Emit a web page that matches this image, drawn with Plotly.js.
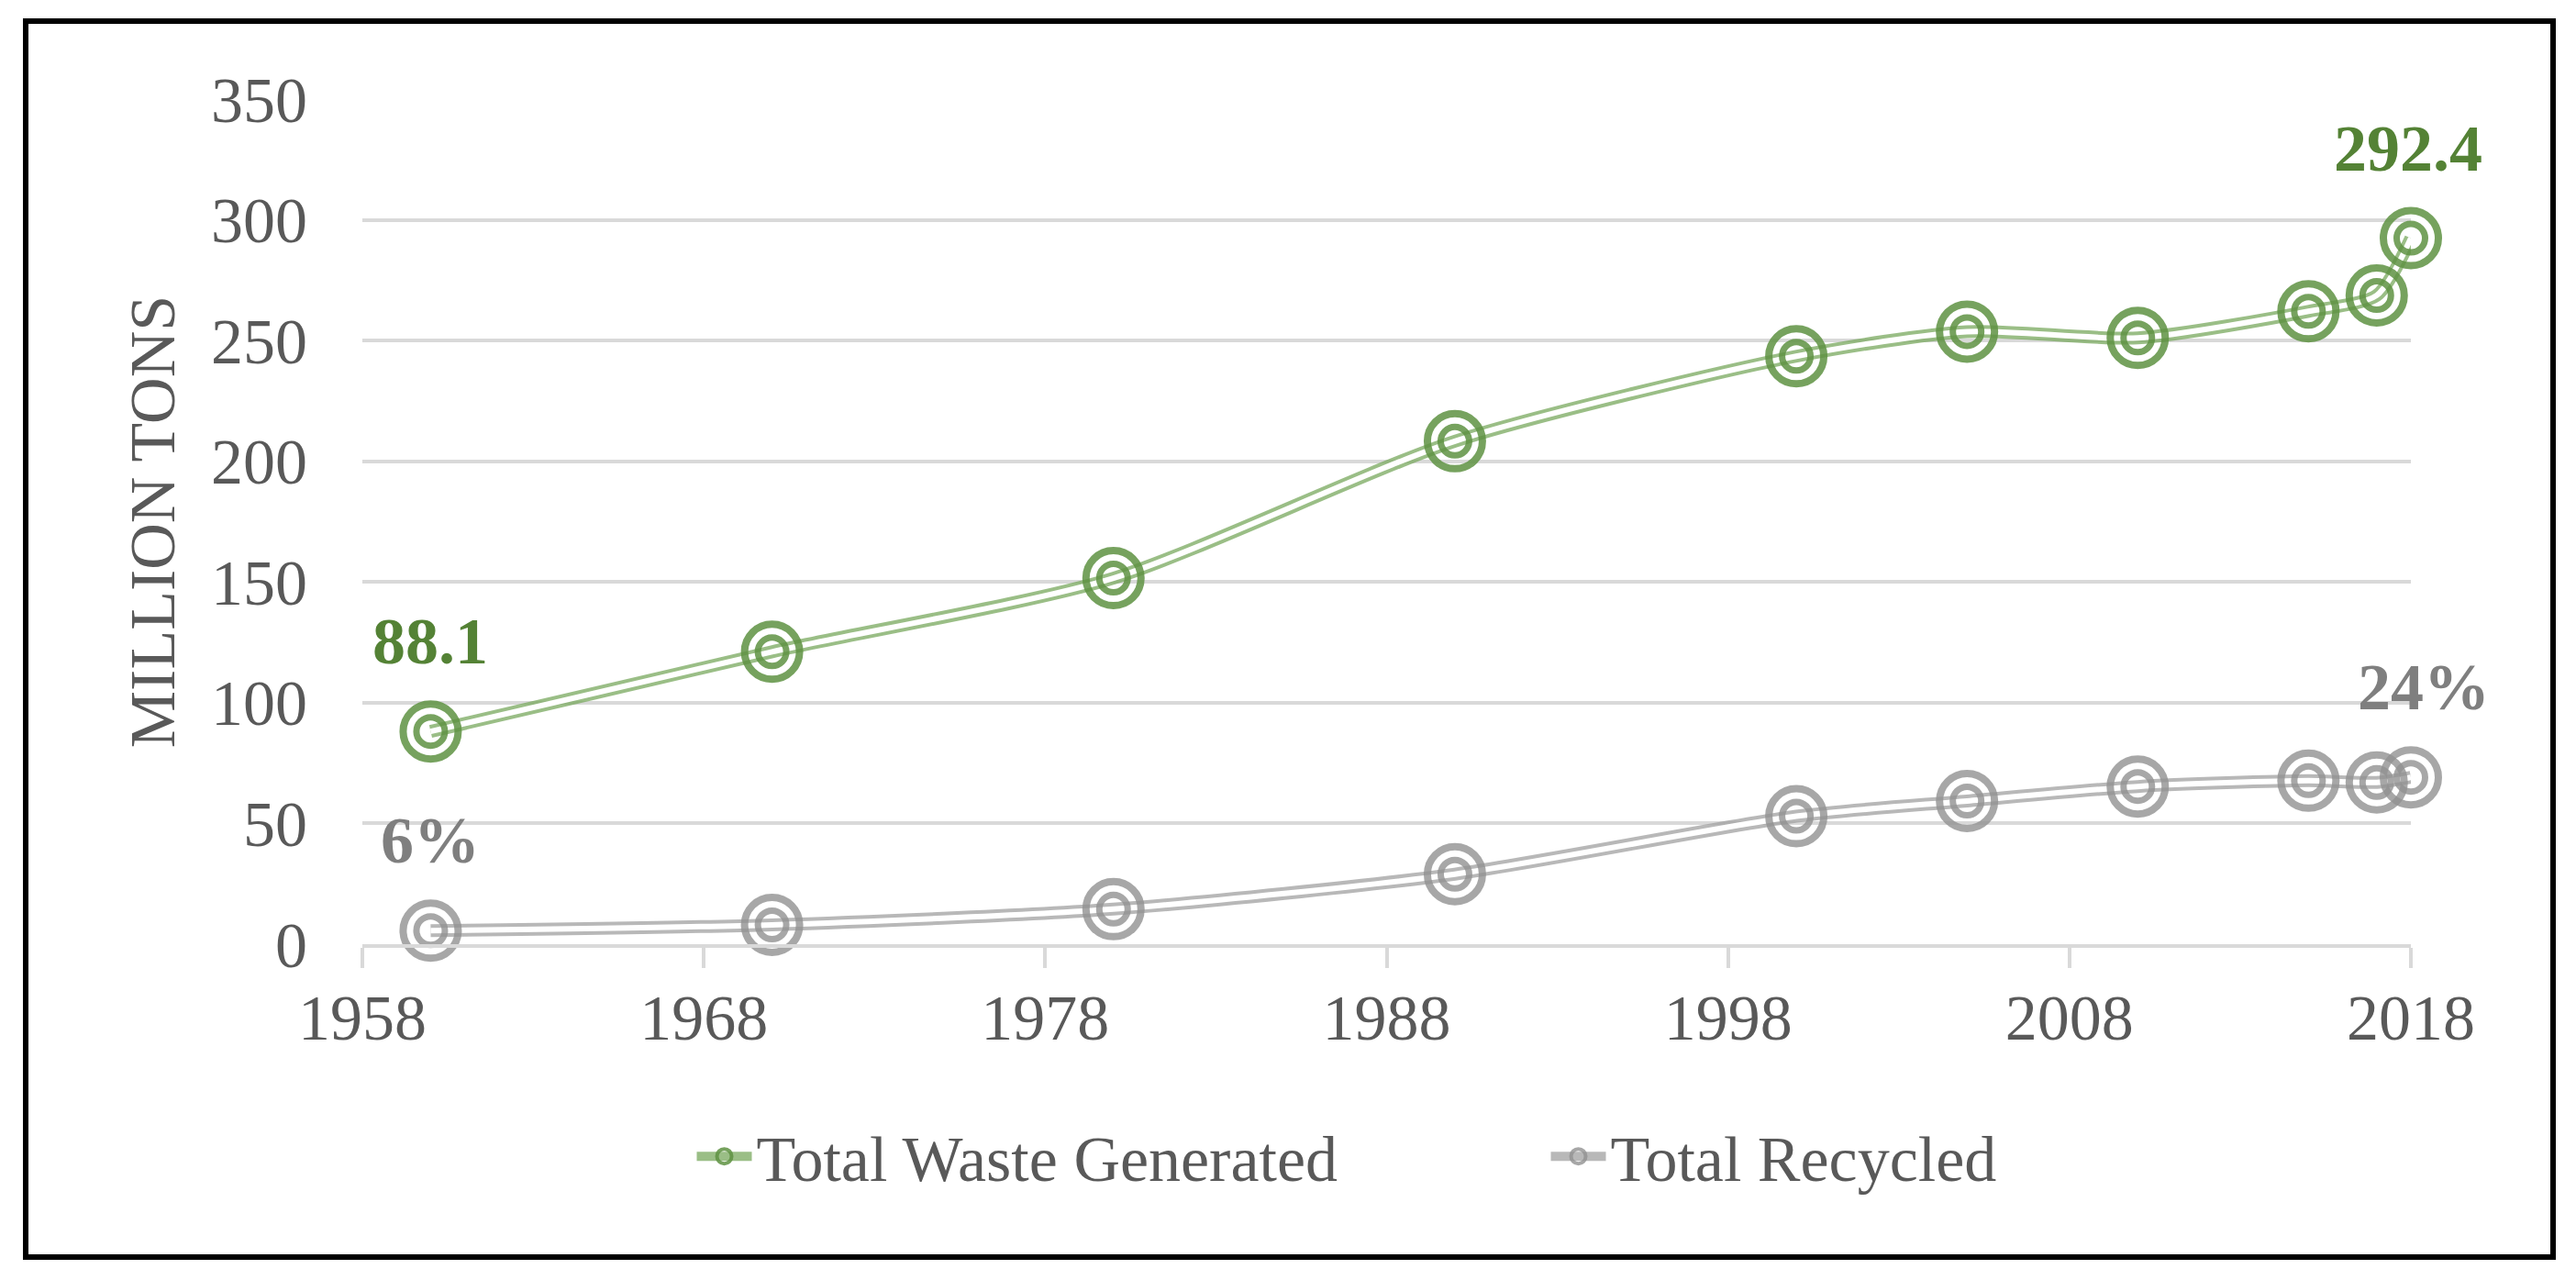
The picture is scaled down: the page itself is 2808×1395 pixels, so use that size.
<!DOCTYPE html>
<html>
<head>
<meta charset="utf-8">
<script src="https://cdn.plot.ly/plotly-3.0.1.min.js"></script>
<style>
  body { margin: 0; background: #fff; }
  #myDiv { position: absolute; left: 0; top: 0; width: 2808px; height: 1395px; }
  #frame { position: absolute; left: 25px; top: 20px; width: 2761px; height: 1353px;
           border: 6px solid #000; box-sizing: border-box; pointer-events: none; }
</style>
</head>
<body>
<div id="myDiv"></div>
<div id="frame"></div>
<script>
// EPA municipal solid waste, million tons
var years = [1960, 1970, 1980, 1990, 2000, 2005, 2010, 2015, 2017, 2018];
var wasteGenerated = [88.1, 121.1, 151.6, 208.3, 243.5, 253.7, 251.1, 262.1, 268.7, 292.4];
var totalRecycled = [5.6, 8.0, 14.5, 29.0, 53.0, 59.3, 65.3, 67.7, 67.0, 69.1];
var seriesNames = ['Total Waste Generated', 'Total Recycled'];

var font = 'Liberation Serif, Times New Roman, serif';
var green = 'rgba(94,146,66,0.85)';
var greenLine = 'rgba(120,168,94,0.75)';
var gray = 'rgba(145,145,145,0.8)';
var grayLine = 'rgba(160,160,160,0.75)';

function series(ys, name, mcol, lcol) {
  var base = {x: years, y: ys, type: 'scatter', cliponaxis: false, showlegend: false,
              hoverinfo: 'skip', legendgroup: name};
  var shape = {shape: 'spline', smoothing: 0.7};
  return [
    Object.assign({}, base, {mode: 'lines', line: Object.assign({color: lcol, width: 14}, shape)}),
    Object.assign({}, base, {mode: 'lines', line: Object.assign({color: '#ffffff', width: 6}, shape)}),
    // open symbols take their stroke colour from marker.color
    Object.assign({}, base, {mode: 'markers',
      marker: {symbol: 'circle-open', size: 60, color: mcol, line: {width: 8}}}),
    Object.assign({}, base, {mode: 'markers',
      marker: {symbol: 'circle-open', size: 31, color: mcol, line: {width: 7}}}),
    // legend entry only
    {x: [null], y: [null], type: 'scatter', mode: 'lines+markers', name: name, legendgroup: name,
     line: {color: lcol, width: 10},
     marker: {symbol: 'circle-open', size: 16, color: mcol, line: {width: 4}}}
  ];
}

var data = series(wasteGenerated, seriesNames[0], green, greenLine)
  .concat(series(totalRecycled, seriesNames[1], gray, grayLine));

var n = years.length - 1;
var pct = function (i) { return Math.round(totalRecycled[i] / wasteGenerated[i] * 100) + '%'; };
var lab = function (x, y, text, col, xs) {
  return {x: x, y: y, text: '<b>' + text + '</b>', showarrow: false, yshift: 98, xshift: xs || 0,
          font: {family: font, size: 72, color: col}};
};

var layout = {
  width: 2808, height: 1395,
  margin: {l: 395, r: 180, t: 108, b: 366},
  paper_bgcolor: '#fff', plot_bgcolor: '#fff',
  font: {family: font, size: 70, color: '#595959'},
  xaxis: {
    range: [1958, 2018], tick0: 1958, dtick: 10, showgrid: false, zeroline: false,
    showline: true, linecolor: '#d9d9d9', linewidth: 4, automargin: false,
    ticks: 'outside', ticklen: 22, tickwidth: 4, tickcolor: '#d9d9d9',
    ticklabelstandoff: -6,
    tickfont: {family: font, size: 70, color: '#595959'}
  },
  yaxis: {
    range: [0, 350], dtick: 50, showgrid: true, gridcolor: '#d9d9d9', gridwidth: 4,
    zeroline: false, showline: false, ticks: '', ticklabelstandoff: 59, automargin: false,
    tickfont: {family: font, size: 70, color: '#595959'},
    title: {text: 'MILLION TONS', standoff: 16, font: {family: font, size: 70, color: '#595959'}}
  },
  showlegend: true,
  legend: {orientation: 'h', x: 0.161, xanchor: 'left', y: -0.251, yanchor: 'middle',
           entrywidth: 856, itemwidth: 60,
           font: {family: font, size: 70, color: '#595959'}},
  annotations: [
    lab(years[0], wasteGenerated[0], wasteGenerated[0].toFixed(1), '#548235'),
    lab(years[n], wasteGenerated[n], wasteGenerated[n].toFixed(1), '#548235', -3),
    lab(years[0], totalRecycled[0], pct(0), '#7f7f7f'),
    lab(years[n], totalRecycled[n], pct(n), '#7f7f7f', 14)
  ]
};

Plotly.newPlot('myDiv', data, layout, {staticPlot: true});
</script>
</body>
</html>
